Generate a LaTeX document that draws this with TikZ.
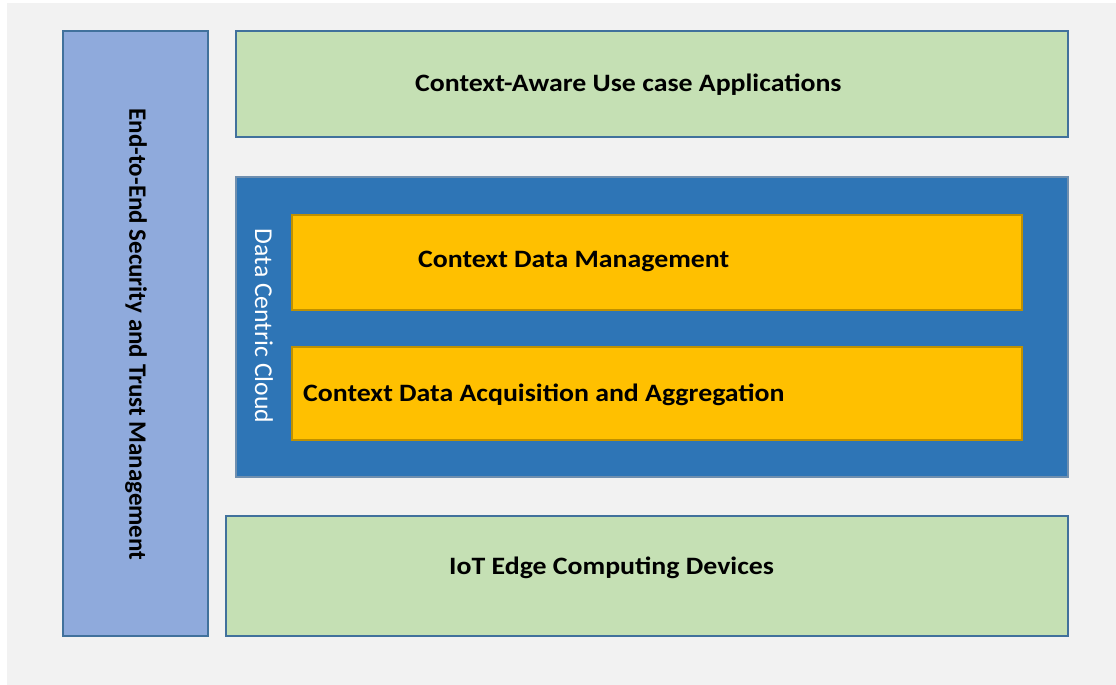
\documentclass[tikz,border=0pt]{standalone}
\usepackage{fontspec}
\setmainfont{Carlito}
\definecolor{bgc}{HTML}{F2F2F2}
\definecolor{greenf}{HTML}{C5E0B4}
\definecolor{bluef}{HTML}{8FAADC}
\definecolor{cloudf}{HTML}{2E75B6}
\definecolor{orangef}{HTML}{FFC000}
\definecolor{edgeb}{HTML}{41719C}
\definecolor{edgeo}{HTML}{BF9000}
\definecolor{edgec}{HTML}{6F8FAF}
\begin{document}
\begin{tikzpicture}[x=1pt,y=-1pt,
  layer/.style={line width=1.4pt},
  lbl/.style={font=\bfseries\fontsize{25}{30}\selectfont, text=black, inner sep=0pt, anchor=base west, xscale=1.113}]
\useasboundingbox (0,0) rectangle (1116,685);
\fill[white] (0,0) rectangle (1116,685);
\fill[bgc] (7,3) rectangle (1116,685);
% left security box
\draw[layer, draw=edgeb, fill=bluef] (63,31) rectangle (208,636);
\node[font=\bfseries\fontsize{25}{30}\selectfont, rotate=-90, inner sep=0pt] (sec) at (136,334.5) {End-to-End Security and Trust Management};
% top green
\draw[layer, draw=edgeb, fill=greenf] (236,31) rectangle (1068,137);
\node[lbl] (app) at (415,91) {Context-Aware Use case Applications};
% cloud
\draw[layer, draw=edgec, fill=cloudf] (236,177) rectangle (1068,477);
\node[font=\fontsize{25.7}{30}\selectfont, text=white, rotate=-90, inner sep=0pt] (cloud) at (264,326) {Data Centric Cloud};
\draw[layer, draw=edgeo, fill=orangef] (292,215) rectangle (1022,310);
\node[lbl] (cdm) at (418,267) {Context Data Management};
\draw[layer, draw=edgeo, fill=orangef] (292,347) rectangle (1022,440);
\node[lbl] (cda) at (303,401) {Context Data Acquisition and Aggregation};
% bottom green
\draw[layer, draw=edgeb, fill=greenf] (226,516) rectangle (1068,636);
\node[lbl] (iot) at (449,574) {IoT Edge Computing Devices};
\end{tikzpicture}
\end{document}
